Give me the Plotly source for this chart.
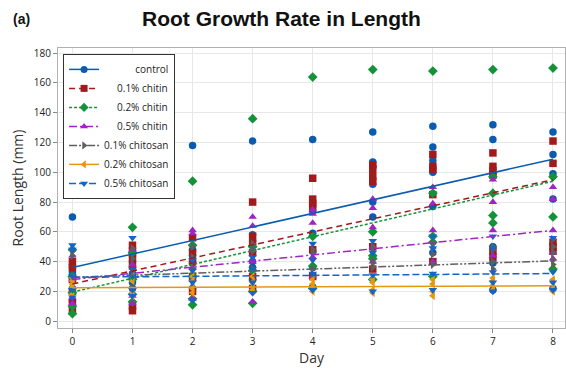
import plotly.graph_objects as go

days = [0, 1, 2, 3, 4, 5, 6, 7, 8]
groups = ["control", "0.1% chitin", "0.2% chitin", "0.5% chitin",
          "0.1% chitosan", "0.2% chitosan", "0.5% chitosan"]

# Root length (mm) of individual seedlings, one list per day (0..8)
control = [
    [70, 36, 33, 31, 22, 14], [44, 40, 32, 26, 22], [118, 48, 44, 39, 30, 22],
    [121, 58, 54, 40, 36, 28], [122, 74, 59, 47, 36, 23], [127, 107, 104, 92, 80, 70],
    [131, 117, 108, 100, 77, 46], [132, 122, 100, 50, 39, 21], [127, 112, 99, 82, 22],
]
chitin_01 = [
    [40, 36, 28, 20, 12, 7], [51, 47, 42, 37, 10, 7], [56, 46, 40, 30, 20],
    [80, 57, 52, 46, 30, 22], [96, 82, 79, 77, 48, 30], [105, 102, 97, 94, 50, 35],
    [112, 104, 102, 85, 40], [113, 104, 101, 98, 47, 43], [121, 106, 53, 50, 47],
]
chitin_02 = [
    [48, 30, 19, 10, 5], [63, 46, 28, 18, 13], [94, 51, 30, 15, 11],
    [136, 50, 34, 20, 12], [164, 57, 37, 22], [169, 60, 44, 42, 28],
    [168, 86, 57, 53, 30], [169, 97, 86, 71, 66], [170, 97, 70, 35],
]
chitin_05 = [
    [44, 30, 28, 16, 12], [48, 38, 30, 17, 12], [61, 59, 36, 28, 15],
    [70, 64, 48, 40, 13], [75, 72, 66, 43, 30], [82, 76, 63, 50, 40],
    [90, 79, 61, 40], [95, 80, 61, 44], [90, 82, 61, 46, 42],
]
chitosan_01 = [
    [47, 44, 30, 26, 21], [49, 42, 32, 22], [50, 43, 35, 23],
    [52, 47, 35, 28], [48, 46, 35, 30], [50, 47, 39, 36],
    [52, 49, 45, 38], [50, 48, 40, 35], [55, 50, 46, 41, 38],
]
chitosan_02 = [
    [29, 27, 25, 23, 18], [30, 27, 19, 17], [30, 27, 22, 19],
    [30, 26, 23, 21], [28, 25, 23, 20], [28, 26, 21, 19],
    [28, 25, 20, 17], [29, 27, 24, 21], [28, 26, 22, 20],
]
chitosan_05 = [
    [51, 48, 30, 21, 16], [56, 35, 30, 21, 17], [41, 34, 26, 14],
    [43, 35, 26, 19], [52, 41, 32, 21], [54, 46, 31, 20],
    [57, 49, 32, 21], [57, 49, 33, 26, 20], [56, 33, 26, 21],
]
series = [control, chitin_01, chitin_02, chitin_05, chitosan_01, chitosan_02, chitosan_05]

# Linear trend per treatment: fitted length at day 0 and day 8
trend_day0 = [36.0, 25.0, 19.5, 28.0, 29.5, 22.5, 29.5]
trend_day8 = [108.8, 95.0, 94.0, 61.0, 40.5, 23.8, 32.0]

colors = ["#0b5cb0", "#a01b1b", "#14923a", "#a024c4", "#5f5f5f", "#e3980f", "#1565c8"]
symbols = ["circle", "square", "diamond", "triangle-up",
           "triangle-right", "triangle-left", "triangle-down"]
dashes = ["solid", "6px,4px", "3px,2px", "8px,3px,2px,3px",
          "8px,2px,2px,2px,2px,2px", "solid", "7px,3px"]
# non-breaking spaces push the shorter names to the right edge of the legend
legend_names = ["\u00a0" * 12 + "control", "\u00a0" * 5 + "0.1% chitin",
                "\u00a0" * 5 + "0.2% chitin", "\u00a0" * 5 + "0.5% chitin",
                "0.1% chitosan", "0.2% chitosan", "0.5% chitosan"]

fig = go.Figure()

for name, data, col, sym in zip(groups, series, colors, symbols):
    xs, ys = [], []
    for d, vals in zip(days, data):
        xs += [d] * len(vals)
        ys += vals
    fig.add_trace(go.Scatter(
        x=xs, y=ys, mode="markers", name=name, showlegend=False,
        marker=dict(symbol=sym, size=7.5, color=col, line=dict(width=0)),
    ))

for name, col, dash, y0, y8 in zip(groups, colors, dashes, trend_day0, trend_day8):
    fig.add_trace(go.Scatter(
        x=[days[0], days[-1]], y=[y0, y8], mode="lines", name=name,
        showlegend=False, line=dict(color=col, width=1.5, dash=dash),
    ))

for name, label, col, sym, dash in zip(groups, legend_names, colors, symbols, dashes):
    fig.add_trace(go.Scatter(
        x=[None], y=[None], mode="lines+markers", name=label,
        line=dict(color=col, width=1.5, dash=dash),
        marker=dict(symbol=sym, size=7, color=col),
    ))

font_family = "Open Sans, Noto Sans, sans-serif"
fig.update_layout(
    width=566, height=372,
    margin=dict(l=58, r=1, t=48, b=44),
    paper_bgcolor="white", plot_bgcolor="white",
    font=dict(family=font_family, color="#333333", size=10),
    showlegend=True,
    legend=dict(
        x=0.01, y=0.979, xanchor="left", yanchor="top",
        bgcolor="white", bordercolor="#333333", borderwidth=1,
        tracegroupgap=0,
        font=dict(size=10, color="#222222"),
    ),
    annotations=[
        dict(text="<b>Root Growth Rate in Length</b>", xref="paper", yref="paper",
             x=0.44, y=1.0, yshift=30, xanchor="center", yanchor="middle",
             showarrow=False, font=dict(family="Liberation Sans, Arial", size=21, color="#111111")),
        dict(text="<b>(a)</b>", xref="paper", yref="paper", x=-0.092, y=1.0, yshift=29,
             xanchor="left", yanchor="middle", showarrow=False,
             font=dict(family="Liberation Sans, Arial", size=14, color="#111111")),
    ],
)

fig.update_xaxes(
    range=[-0.24, 8.2], tickmode="array", tickvals=days,
    showgrid=True, gridcolor="#e8e8e8", gridwidth=1, zeroline=False,
    showline=True, linecolor="#b0b0b0", linewidth=1, mirror=True,
    ticks="outside", ticklen=4, tickcolor="#888888",
    tickfont=dict(size=10, color="#222222"),
    title=dict(text="Day", font=dict(size=14, color="#333333"), standoff=6),
)
fig.update_yaxes(
    range=[-4.6, 183.5], tickmode="array", tickvals=list(range(0, 181, 20)),
    showgrid=True, gridcolor="#e8e8e8", gridwidth=1, zeroline=False,
    showline=True, linecolor="#b0b0b0", linewidth=1, mirror=True,
    ticks="outside", ticklen=4, tickcolor="#888888",
    tickfont=dict(size=10, color="#222222"),
    title=dict(text="Root Length (mm)", font=dict(size=14, color="#333333"), standoff=6),
)

fig.write_html("out.html")
